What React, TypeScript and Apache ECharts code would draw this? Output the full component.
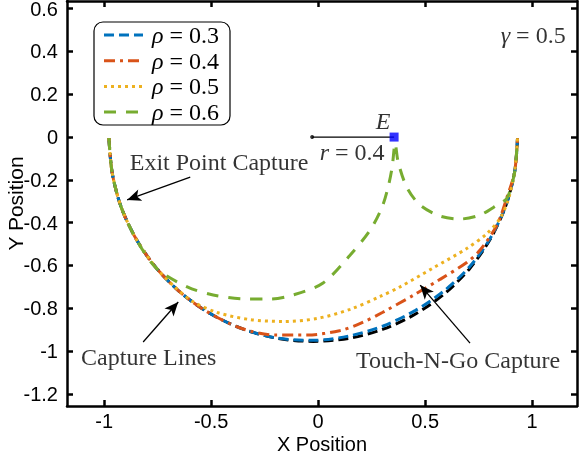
import React, { useEffect, useRef } from "react";
import * as echarts from "echarts";

const xTicks = [-1, -0.5, 0, 0.5, 1];
const yTicks = [-1.2, -1, -0.8, -0.6, -0.4, -0.2, 0, 0.2, 0.4, 0.6];
const xRange = [-1.174, 1.21];
const yRange = [-1.257, 0.636];

// capture circle (black dashed)
const capture: number[][] = [
  [-0.978, -0.005], [-0.963, -0.166], [-0.921, -0.327], [-0.85, -0.478], [-0.755, -0.614],
  [-0.637, -0.732], [-0.501, -0.827], [-0.35, -0.898], [-0.189, -0.941], [-0.023, -0.955],
  [0.143, -0.941], [0.304, -0.898], [0.455, -0.827], [0.591, -0.732], [0.709, -0.614],
  [0.804, -0.478], [0.875, -0.327], [0.918, -0.166], [0.932, -0.005],
];
const rho03: number[][] = [
  [-0.978, -0.005], [-0.963, -0.166], [-0.921, -0.327], [-0.85, -0.478], [-0.755, -0.614],
  [-0.637, -0.732], [-0.501, -0.827], [-0.35, -0.898], [-0.189, -0.94], [-0.023, -0.95],
  [0.143, -0.93], [0.304, -0.883], [0.455, -0.81], [0.591, -0.717], [0.709, -0.605],
  [0.804, -0.474], [0.875, -0.326], [0.918, -0.166], [0.932, -0.005],
];
const rho04: number[][] = [
  [-0.978, -0.005], [-0.963, -0.166], [-0.921, -0.327], [-0.85, -0.478], [-0.755, -0.614],
  [-0.637, -0.732], [-0.501, -0.827], [-0.35, -0.897], [-0.2, -0.925], [-0.05, -0.925],
  [0.1, -0.905], [0.2, -0.87], [0.3, -0.82], [0.444, -0.74], [0.57, -0.665],
  [0.696, -0.585], [0.757, -0.528], [0.836, -0.411], [0.883, -0.28], [0.918, -0.166], [0.932, -0.005],
];
const rho05: number[][] = [
  [-0.978, -0.005], [-0.963, -0.166], [-0.921, -0.327], [-0.85, -0.478], [-0.755, -0.614],
  [-0.66, -0.71], [-0.584, -0.77], [-0.472, -0.82], [-0.318, -0.853], [-0.164, -0.862],
  [-0.005, -0.848], [0.15, -0.805], [0.29, -0.745], [0.383, -0.7], [0.537, -0.612],
  [0.696, -0.52], [0.79, -0.45], [0.85, -0.38], [0.888, -0.294], [0.918, -0.166], [0.932, -0.005],
];
const rho06: number[][] = [
  [-0.978, -0.005], [-0.963, -0.166], [-0.921, -0.327], [-0.85, -0.478], [-0.755, -0.614],
  [-0.612, -0.7], [-0.491, -0.738], [-0.332, -0.757], [-0.224, -0.757], [-0.117, -0.738],
  [0.023, -0.682], [0.15, -0.551], [0.243, -0.435], [0.299, -0.327], [0.327, -0.234],
  [0.346, -0.14], [0.36, -0.03], [0.374, -0.117], [0.416, -0.238], [0.477, -0.318],
  [0.57, -0.369], [0.664, -0.383], [0.757, -0.364], [0.836, -0.318], [0.883, -0.285],
  [0.918, -0.166], [0.932, -0.005],
];
const seriesNames = ["ρ = 0.3", "ρ = 0.4", "ρ = 0.5", "ρ = 0.6"];
const seriesColors = ["#0072BD", "#D95319", "#EDB120", "#77AC30"];
const seriesDash = [[10, 5], [11, 5, 3, 5], [3, 4], [12, 10]];

const evader: number[][] = [[0.355, 0]];
const radiusLine: number[][] = [[-0.028, 0], [0.355, 0]];

const annoTexts = [
  "Exit Point Capture",
  "Capture Lines",
  "Touch-N-Go Capture",
  "{i|E}",
  "{i|r} = 0.4",
  "{i|γ} = 0.5",
];
const annoX = [-0.463, -0.792, 0.654, 0.304, 0.159, 1.005];
const annoY = [-0.117, -1.028, -1.042, 0.075, -0.07, 0.477];

const arrowFrom: number[][] = [[-0.598, -0.187], [-0.818, -0.958], [0.71, -0.963]];
const arrowTo: number[][] = [[-0.893, -0.294], [-0.654, -0.771], [0.477, -0.692]];

const SERIF = "Liberation Serif";
const SANS = "Liberation Sans";

export default function App() {
  const ref = useRef<HTMLDivElement>(null);
  useEffect(() => {
    if (!ref.current) return;
    const chart = echarts.init(ref.current, undefined, { renderer: "svg" });
    const fmt = (v: number) => String(Math.round(v * 10) / 10);
    const axisCommon = {
      type: "value" as const,
      splitLine: { show: false },
      axisLine: { show: true, onZero: false, lineStyle: { color: "#000", width: 2.5 } },
    };
    const richText = {
      i: { fontFamily: SERIF, fontStyle: "italic", fontSize: 24, fill: "#000", color: "#000" },
    };
    const lineSeries = [rho03, rho04, rho05, rho06].map((d, i) => ({
      name: seriesNames[i],
      type: "line",
      data: d,
      symbol: "none",
      showSymbol: false,
      smooth: 0.3,
      z: 3 + i,
      lineStyle: { color: seriesColors[i], width: 3, type: seriesDash[i] },
      itemStyle: { color: seriesColors[i] },
    }));

    // legend drawn as graphic
    const legendTop = 22;
    const rowGap = 25.7;
    const legendGraphic: any[] = [
      {
        type: "rect",
        z: 100,
        shape: { x: 94, y: legendTop, width: 136, height: 103, r: 9 },
        style: { fill: "#fff", stroke: "#000", lineWidth: 1.2 },
      },
    ];
    seriesNames.forEach((n, i) => {
      const yy = legendTop + 13 + i * rowGap;
      legendGraphic.push({
        type: "line",
        z: 101,
        shape: { x1: 104, y1: yy, x2: 143, y2: yy },
        style: { stroke: seriesColors[i], lineWidth: 3, lineDash: seriesDash[i] },
      });
      legendGraphic.push({
        type: "text",
        z: 101,
        style: {
          x: 152,
          y: yy,
          text: "{i|ρ}" + n.slice(1),
          fontFamily: SERIF,
          fontSize: 24,
          fill: "#000",
          verticalAlign: "middle",
          rich: richText,
        },
      });
    });

    chart.setOption({
      animation: false,
      grid: { left: 67, right: 4, top: 1, bottom: 46, containLabel: false, outerBoundsMode: "none" },
      graphic: legendGraphic,
      xAxis: [
        {
          ...axisCommon,
          min: xRange[0],
          max: xRange[1],
          position: "bottom",
          axisTick: { inside: true, length: 6, customValues: xTicks, lineStyle: { width: 2.5, color: "#000" } },
          axisLabel: { customValues: xTicks, formatter: fmt, color: "#000", fontSize: 20, lineHeight: 18, fontFamily: SANS, margin: 6 },
          name: "X Position",
          nameLocation: "middle",
          nameGap: 29,
          nameMoveOverlap: false,
          nameTextStyle: { color: "#000", fontSize: 20, lineHeight: 17, fontFamily: SANS },
        },
        {
          ...axisCommon,
          min: xRange[0],
          max: xRange[1],
          position: "top",
          axisTick: { inside: true, length: 6, customValues: xTicks, lineStyle: { width: 2.5, color: "#000" } },
          axisLabel: { show: false },
        },
      ],
      yAxis: [
        {
          ...axisCommon,
          min: yRange[0],
          max: yRange[1],
          position: "left",
          axisTick: { inside: true, length: 6, customValues: yTicks, lineStyle: { width: 2.5, color: "#000" } },
          axisLabel: { customValues: yTicks, formatter: fmt, color: "#000", fontSize: 20, lineHeight: 18, fontFamily: SANS, margin: 9 },
          name: "Y Position",
          nameLocation: "middle",
          nameGap: 43,
          nameMoveOverlap: false,
          nameTextStyle: { color: "#000", fontSize: 21, lineHeight: 18, fontFamily: SANS },
        },
        {
          ...axisCommon,
          min: yRange[0],
          max: yRange[1],
          position: "right",
          axisTick: { inside: true, length: 6, customValues: yTicks, lineStyle: { width: 2.5, color: "#000" } },
          axisLabel: { show: false },
        },
      ],
      series: [
        {
          name: "capture",
          type: "line",
          data: capture,
          symbol: "none",
          smooth: 0.3,
          z: 2,
          lineStyle: { color: "#000", width: 3, type: [10, 5] },
        },
        ...lineSeries,
        {
          name: "radius",
          type: "line",
          data: radiusLine,
          symbol: "none",
          z: 8,
          lineStyle: { color: "#000", width: 1.3 },
        },
        {
          name: "center",
          type: "scatter",
          data: [radiusLine[0]],
          symbol: "circle",
          symbolSize: 4,
          z: 8,
          itemStyle: { color: "#000" },
        },
        {
          name: "evader",
          type: "scatter",
          data: evader,
          symbol: "rect",
          symbolSize: 9,
          z: 9,
          itemStyle: { color: "#0000ff" },
        },
        {
          name: "arrows",
          type: "line",
          data: [],
          z: 10,
          markLine: {
            silent: true,
            symbol: ["none", "arrow"],
            symbolSize: [9, 14],
            label: { show: false },
            lineStyle: { color: "#000", width: 1.3, type: "solid" },
            data: arrowFrom.map((f, i) => [{ coord: f }, { coord: arrowTo[i] }]),
          },
        },
        {
          name: "annotations",
          type: "scatter",
          symbolSize: 1,
          z: 11,
          itemStyle: { color: "rgba(0,0,0,0)" },
          data: annoTexts.map((t, i) => ({ value: [annoX[i], annoY[i]], name: t })),
          labelLayout: { hideOverlap: false },
          label: {
            show: true,
            position: "inside",
            formatter: "{b}",
            color: "#000",
            fontFamily: SERIF,
            fontSize: 24,
            rich: richText,
          },
        },
      ],
    });
    return () => chart.dispose();
  }, []);
  return (
    <div
      ref={ref}
      style={{ position: "fixed", left: 0, top: 0, width: 581, height: 452 }}
    />
  );
}
